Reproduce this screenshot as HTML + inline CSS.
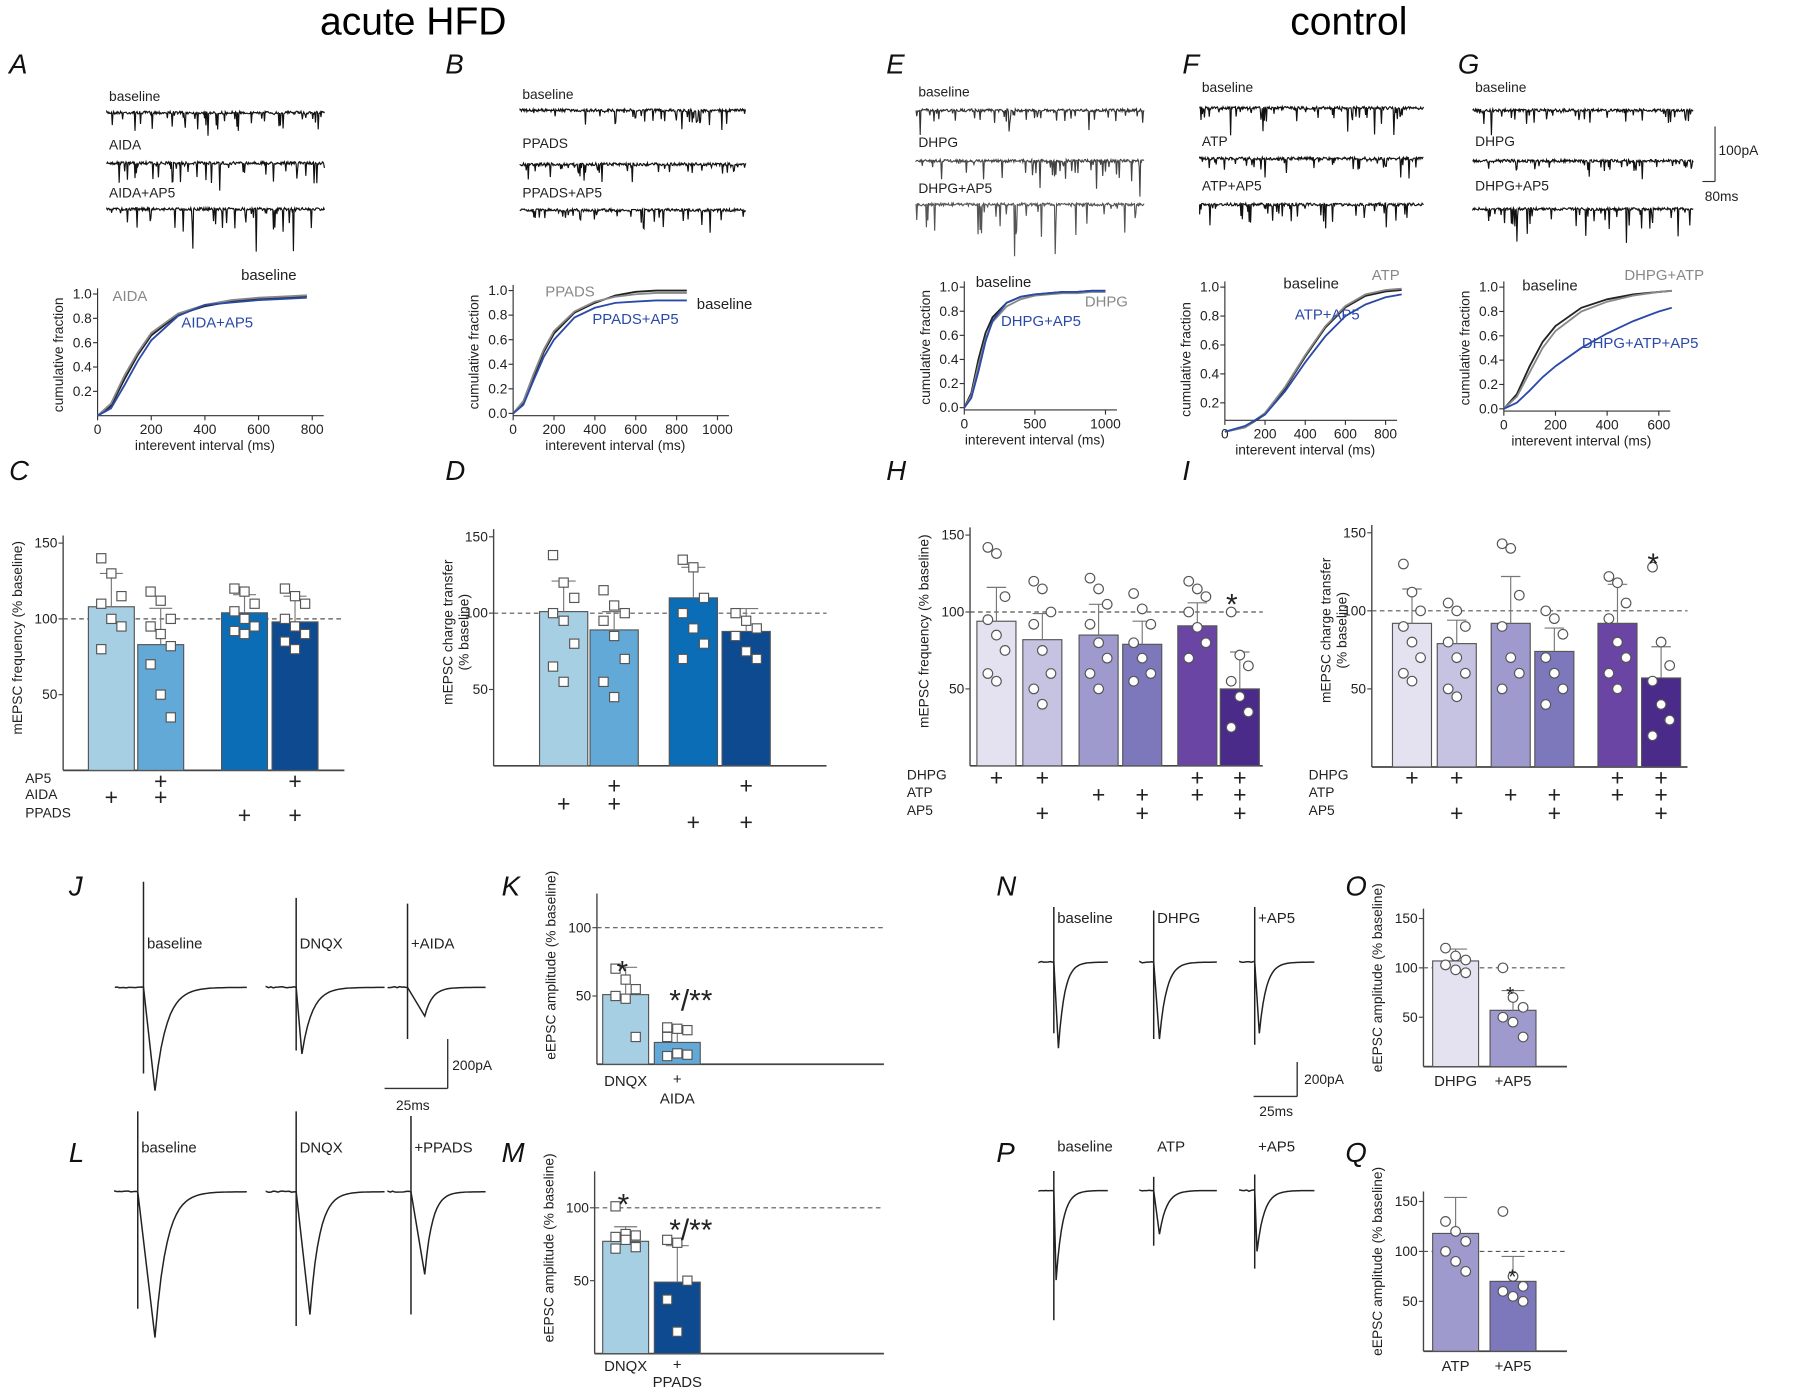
<!DOCTYPE html>
<html><head><meta charset="utf-8">
<style>
html,body{margin:0;padding:0;background:#fff;}
svg{display:block;font-family:"Liberation Sans",Arial,sans-serif;}
.t{font-size:12px;fill:#222;}
.pl{font-size:24px;font-style:italic;fill:#111;}
</style></head>
<body>
<svg id="fig" width="1800" height="1387" viewBox="0 0 1568 1208" xmlns="http://www.w3.org/2000/svg">
<text x="360" y="30" font-size="34" text-anchor="middle">acute HFD</text>
<text x="1175" y="30" font-size="34" text-anchor="middle">control</text>
</svg>
<script>
// ---- data arrays ----
const cdfXA = [0,50,100,150,200,300,400,500,600,700,780];
const cdfA_base = [0,.08,.3,.5,.66,.83,.9,.94,.96,.97,.98];
const cdfA_aida = [0,.1,.33,.52,.68,.84,.91,.95,.97,.98,.99];
const cdfA_ap5 = [0,.06,.25,.45,.62,.82,.91,.93,.95,.96,.97];
const cdfXB = [0,50,100,150,200,300,400,500,600,700,800,850];
const cdfB_base = [0,.08,.3,.5,.65,.82,.9,.96,.99,1,1,1];
const cdfB_ppads = [0,.1,.32,.52,.67,.83,.91,.95,.97,.98,.98,.98];
const cdfB_ap5 = [0,.07,.27,.46,.6,.78,.86,.9,.91,.92,.92,.92];
const cdfXE = [0,50,100,150,200,300,400,500,600,700,800,900,1000];
const cdfE_base = [0,.12,.4,.62,.75,.87,.92,.94,.95,.96,.96,.97,.97];
const cdfE_dhpg = [0,.1,.35,.57,.71,.84,.9,.93,.94,.95,.95,.96,.96];
const cdfE_ap5 = [0,.08,.3,.55,.72,.87,.92,.94,.95,.96,.96,.97,.97];
const cdfXF = [0,100,200,300,400,500,600,700,800,880];
const cdfF_base = [0,.03,.12,.3,.52,.72,.86,.94,.97,.98];
const cdfF_atp = [0,.03,.13,.31,.53,.73,.87,.95,.98,.99];
const cdfF_ap5 = [0,.04,.12,.28,.48,.66,.8,.88,.93,.95];
const cdfXG = [0,50,100,150,200,300,400,500,600,650];
const cdfG_base = [0,.12,.35,.55,.68,.83,.9,.94,.96,.97];
const cdfG_atp = [0,.1,.3,.5,.64,.8,.88,.93,.96,.97];
const cdfG_ap5 = [0,.05,.15,.26,.35,.5,.62,.72,.8,.83];

const barC = [108,83,104,98], errC=[22,24,12,17];
const ptsC = [[140,130,115,110,100,95,80],[118,112,100,95,90,82,70,50,35],[120,118,110,105,100,95,92,90],[120,115,110,100,95,90,85,80]];
const barD = [101,89,110,88], errD=[20,12,20,15];
const ptsD = [[138,120,110,100,95,80,65,55],[115,105,100,95,85,70,55,45],[135,130,110,100,90,80,70],[100,95,90,85,75,70]];
const barH = [94,82,85,79,91,50], errH=[22,17,20,15,15,24];
const ptsH = [[142,138,110,95,85,75,60,55],[120,115,100,92,75,60,50,40],[122,115,105,92,80,70,60,50],[112,102,92,80,70,60,55],[120,115,110,100,90,80,70],[100,72,65,55,45,35,25]];
const barI = [92,79,92,74,92,57], errI=[22,15,30,15,25,20];
const ptsI = [[130,112,100,90,80,70,60,55],[105,100,90,80,70,60,50,45],[143,140,110,90,70,60,50],[100,95,85,70,60,50,40],[122,118,105,95,80,70,60,50],[128,80,65,55,40,30,20]];
const barK = [51,16], errK=[20,10];
const ptsK = [[70,62,55,50,48,20],[27,26,25,20,8,7,6]];
const barM = [77,49], errM=[10,25];
const ptsM = [[101,82,81,80,78,73,72],[78,76,50,37,15]];
const barO = [107,57], errO=[12,20];
const ptsO = [[120,112,108,103,98,95],[100,70,60,50,45,30]];
const barQ = [118,70], errQ=[36,25];
const ptsQ = [[130,120,110,100,90,80],[140,75,65,60,55,50]];

// ---- helpers ----
const S = document.getElementById('fig');
const NS = 'http://www.w3.org/2000/svg';
function el(tag, attrs, parent){
  const e = document.createElementNS(NS, tag);
  for (const k in attrs) e.setAttribute(k, attrs[k]);
  (parent||S).appendChild(e); return e;
}
function txt(x,y,s,cls,extra){
  extra = extra||{};
  const a = {x:x,y:y,class:cls||'t'};
  for (const k in extra) if (k!=='font-size' && k!=='fill') a[k]=extra[k];
  const e = el('text', a);
  if (extra['font-size']) e.style.fontSize = extra['font-size']+'px';
  if (extra.fill) e.style.fill = extra.fill;
  e.textContent = s; return e;
}
function line(x1,y1,x2,y2,st,w,dash){
  return el('line',{x1:x1,y1:y1,x2:x2,y2:y2,stroke:st||'#333','stroke-width':w||1.2,'stroke-dasharray':dash||'none'});
}
// panel letters
[['A',8,64],['B',388,64],['E',772,64],['F',1030,64],['G',1270,64],['C',8,418],['D',388,418],['H',772,418],['I',1030,418],['J',60,780],['K',437,780],['N',868,780],['O',1172,780],['L',60,1012],['M',437,1012],['P',868,1012],['Q',1172,1012]].forEach(p=>{
  const t = txt(p[1],p[2],p[0],'pl');
  
  
});

// noisy mEPSC traces
let seed = 7;
function rnd(){ seed = (seed*16807)%2147483647; return seed/2147483647; }
function trace(x0,x1,y,amp,color,name){
  let d = 'M'+x0+','+y;
  for (let x=x0; x<=x1; x+=0.6){
    let v = y + (rnd()-0.5)*2.5;
    if (rnd()<0.12) v = y + rnd()*amp*(rnd()<0.2?2.0:1);
    d += ' L'+x.toFixed(1)+','+v.toFixed(1);
  }
  const p = el('path',{d:d,fill:'none',stroke:color||'#111','stroke-width':1});
  
  
}
function traceSet(x0,x1,rows){
  rows.forEach(r=>{
    const t = txt(x0+2,r[1]-8,r[0]);  
    trace(x0,x1,r[2],r[3],r[4],'trace-'+r[0].toLowerCase().replace(/[^a-z0-9]+/g,'-'));
  });
}
traceSet(93,283,[['baseline',96,98,16],['AIDA',138,142,18],['AIDA+AP5',180,182,20]]);
traceSet(453,650,[['baseline',94,96,12],['PPADS',137,143,8],['PPADS+AP5',180,183,10]]);
traceSet(798,997,[['baseline',92,96,12,'#333'],['DHPG',136,140,18,'#444'],['DHPG+AP5',176,178,26,'#555']]);
traceSet(1045,1240,[['baseline',88,94,12],['ATP',135,138,10],['ATP+AP5',174,178,16]]);
traceSet(1283,1475,[['baseline',88,96,12],['DHPG',135,140,10],['DHPG+AP5',174,182,16]]);
line(1494,110,1494,158,'#333',1); line(1483,158,1494,158,'#333',1);
txt(1497,135,'100pA'); txt(1485,175,'80ms');

// cumulative plots
function cdfPlot(cfg){
  const g = el('g',{});  
  const sx = v => cfg.x0 + v/cfg.xmax*(cfg.x1-cfg.x0);
  const sy = v => cfg.y0 - v*(cfg.y0-cfg.y1);
  el('line',{x1:cfg.x0,y1:cfg.ybot,x2:cfg.x0,y2:cfg.y1-5,stroke:'#333'},g);
  el('line',{x1:cfg.x0,y1:cfg.ybot,x2:cfg.x1+10,y2:cfg.ybot,stroke:'#333'},g);
  cfg.yt.forEach(v=>{ el('line',{x1:cfg.x0-4,y1:sy(v),x2:cfg.x0,y2:sy(v),stroke:'#333'},g);
    g.appendChild(txt(cfg.x0-5,sy(v)+4,v.toFixed(1),'t',{'text-anchor':'end'}));});
  cfg.xt.forEach(v=>{ el('line',{x1:sx(v),y1:cfg.ybot,x2:sx(v),y2:cfg.ybot+4,stroke:'#333'},g);
    g.appendChild(txt(sx(v),cfg.ybot+16,String(v),'t',{'text-anchor':'middle'}));});
  g.appendChild(txt((cfg.x0+cfg.x1)/2,cfg.ybot+30,'interevent interval (ms)','t',{'text-anchor':'middle'}));
  g.appendChild(txt(0,0,'cumulative fraction','t',{'text-anchor':'middle',transform:`translate(${cfg.x0-30},${(cfg.y0+cfg.y1)/2}) rotate(-90)`}));
  cfg.series.forEach(s=>{
    let d=''; s.data.forEach((v,i)=>{ d+=(d?' L':'M')+sx(cfg.xs[i]).toFixed(1)+','+sy(v).toFixed(1);});
    const p=el('path',{d:d,fill:'none',stroke:s.c,'stroke-width':1.6},g);
     
  });
  cfg.labels.forEach(l=>g.appendChild(txt(l[1],l[2],l[0],'t',{fill:l[3],'font-size':13})));
}
const BL='#2b4aa8', GR='#888';
cdfPlot({name:'cdf-panel-a',x0:85,x1:272,xmax:800,xs:cdfXA,y0:362,y1:256,ybot:362,yt:[.2,.4,.6,.8,1.0],xt:[0,200,400,600,800],
  series:[{n:'baseline',data:cdfA_base,c:'#222'},{n:'aida',data:cdfA_aida,c:GR},{n:'aida-ap5',data:cdfA_ap5,c:BL}],
  labels:[['AIDA',98,262,GR],['baseline',210,244,'#222'],['AIDA+AP5',158,285,BL]]});
cdfPlot({name:'cdf-panel-b',x0:447,x1:625,xmax:1000,xs:cdfXB,y0:360,y1:253,ybot:362,yt:[0,.2,.4,.6,.8,1.0],xt:[0,200,400,600,800,1000],
  series:[{n:'baseline',data:cdfB_base,c:'#222'},{n:'ppads',data:cdfB_ppads,c:GR},{n:'ppads-ap5',data:cdfB_ap5,c:BL}],
  labels:[['PPADS',475,258,GR],['baseline',607,269,'#222'],['PPADS+AP5',516,282,BL]]});
cdfPlot({name:'cdf-panel-e',x0:840,x1:963,xmax:1000,xs:cdfXE,y0:355,y1:250,ybot:357,yt:[0,.2,.4,.6,.8,1.0],xt:[0,500,1000],
  series:[{n:'baseline',data:cdfE_base,c:'#222'},{n:'dhpg',data:cdfE_dhpg,c:GR},{n:'dhpg-ap5',data:cdfE_ap5,c:BL}],
  labels:[['baseline',850,250,'#222'],['DHPG',945,267,GR],['DHPG+AP5',872,284,BL]]});
cdfPlot({name:'cdf-panel-f',x0:1067,x1:1207,xmax:800,xs:cdfXF,y0:376,y1:250,ybot:366,yt:[.2,.4,.6,.8,1.0],xt:[0,200,400,600,800],
  series:[{n:'baseline',data:cdfF_base,c:'#222'},{n:'atp',data:cdfF_atp,c:GR},{n:'atp-ap5',data:cdfF_ap5,c:BL}],
  labels:[['baseline',1118,251,'#222'],['ATP',1195,244,GR],['ATP+AP5',1128,278,BL]]});
cdfPlot({name:'cdf-panel-g',x0:1310,x1:1445,xmax:600,xs:cdfXG,y0:356,y1:250,ybot:358,yt:[0,.2,.4,.6,.8,1.0],xt:[0,200,400,600],
  series:[{n:'baseline',data:cdfG_base,c:'#222'},{n:'dhpg-atp',data:cdfG_atp,c:GR},{n:'dhpg-atp-ap5',data:cdfG_ap5,c:BL}],
  labels:[['baseline',1326,253,'#222'],['DHPG+ATP',1415,244,GR],['DHPG+ATP+AP5',1378,303,BL]]});

// bar charts
function barChart(cfg){
  const g = el('g',{});  
  const k = cfg.k; const sy = v => cfg.y0 - v*k;
  el('line',{x1:cfg.ax,y1:sy(0),x2:cfg.ax,y2:sy(cfg.top),stroke:'#444','stroke-width':1.2},g);
  el('line',{x1:cfg.ax,y1:sy(0),x2:cfg.xend,y2:sy(0),stroke:'#444','stroke-width':1.5},g);
  el('line',{x1:cfg.ax,y1:sy(100),x2:cfg.xend,y2:sy(100),stroke:'#555','stroke-width':1,'stroke-dasharray':'4,3'},g);
  cfg.ticks.forEach(v=>{ el('line',{x1:cfg.ax-4,y1:sy(v),x2:cfg.ax,y2:sy(v),stroke:'#444'},g);
    g.appendChild(txt(cfg.ax-5,sy(v)+4,String(v),'t',{'text-anchor':'end'}));});
  cfg.vals.forEach((v,i)=>{
    const cx = cfg.cx[i], w = cfg.w;
    const r = el('rect',{x:cx-w/2,y:sy(v),width:w,height:v*k,fill:cfg.colors[i],stroke:'#555','stroke-width':1},g);
     
    const e = cfg.err[i];
    el('line',{x1:cx,y1:sy(v),x2:cx,y2:sy(v+e),stroke:'#777'},g);
    el('line',{x1:cx-w/4,y1:sy(v+e),x2:cx+w/4,y2:sy(v+e),stroke:'#777'},g);
    cfg.pts[i].forEach((p,j)=>{
      const px = cx + ((j%3)-1)*w*0.22;
      if (cfg.shape==='sq') el('rect',{x:px-4,y:sy(p)-4,width:8,height:8,fill:'#fff',stroke:'#555','stroke-width':1},g);
      else el('circle',{cx:px,cy:sy(p),r:4.2,fill:'#fff',stroke:'#555','stroke-width':1},g);
    });
  });
  g.appendChild(txt(0,0,cfg.ylab,'t',{'text-anchor':'middle',transform:`translate(${cfg.ax-36},${sy(cfg.top/2+10)}) rotate(-90)`}));
  if (cfg.ylab2) g.appendChild(txt(0,0,cfg.ylab2,'t',{'text-anchor':'middle',transform:`translate(${cfg.ax-22},${sy(cfg.top/2+10)}) rotate(-90)`}));
  (cfg.rows||[]).forEach(r=>{
    if (r[0]) g.appendChild(txt(r[1],r[2],r[0]));
    r[3].forEach((on,i)=>{ if(on) g.appendChild(txt(cfg.cx[i],r[2]+5,'+','t',{'text-anchor':'middle','font-size':20})); });
  });
  (cfg.stars||[]).forEach(s=>g.appendChild(txt(s[1],s[2],s[0],'t',{'font-size':s[3]||26})));
  (cfg.xl||[]).forEach(s=>g.appendChild(txt(s[1],s[2],s[0],'t',{'text-anchor':'middle','font-size':13})));
}
const BLU=['#a6cfe4','#62a9d7','#0a6db6','#0d4a8f'];
const PUR=['#e4e2f0','#c5c3e1','#9f9acd','#7c78bb','#6a45a4','#4b2b8a'];
barChart({name:'bar-chart-c',ax:55,xend:300,y0:671,k:1.32,top:155,ticks:[50,100,150],vals:barC,err:errC,pts:ptsC,cx:[97,140,213,257],w:40,colors:BLU,shape:'sq',
  ylab:'mEPSC frequency (% baseline)',rows:[['AP5',22,682,[0,1,0,1]],['AIDA',22,696,[1,1,0,0]],['PPADS',22,712,[0,0,1,1]]]});
barChart({name:'bar-chart-d',ax:430,xend:720,y0:667,k:1.33,top:155,ticks:[50,100,150],vals:barD,err:errD,pts:ptsD,cx:[491,535,604,650],w:42,colors:BLU,shape:'sq',
  ylab:'mEPSC charge transfer',ylab2:'(% baseline)',rows:[['',0,686,[0,1,0,1]],['',0,702,[1,1,0,0]],['',0,718,[0,0,1,1]]]});
barChart({name:'bar-chart-h',ax:845,xend:1100,y0:667,k:1.34,top:155,ticks:[50,100,150],vals:barH,err:errH,pts:ptsH,cx:[868,908,957,995,1043,1080],w:34,colors:PUR,shape:'c',
  ylab:'mEPSC frequency (% baseline)',rows:[['DHPG',790,679,[1,1,0,0,1,1]],['ATP',790,694,[0,0,1,1,1,1]],['AP5',790,710,[0,1,0,1,0,1]]],stars:[['*',1068,535]]});
barChart({name:'bar-chart-i',ax:1195,xend:1470,y0:668,k:1.36,top:155,ticks:[50,100,150],vals:barI,err:errI,pts:ptsI,cx:[1230,1269,1316,1354,1409,1447],w:34,colors:PUR,shape:'c',
  ylab:'mEPSC charge transfer',ylab2:'(% baseline)',rows:[['DHPG',1140,679,[1,1,0,0,1,1]],['ATP',1140,694,[0,0,1,1,1,1]],['AP5',1140,710,[0,1,0,1,0,1]]],stars:[['*',1435,500]]});
barChart({name:'bar-chart-k',ax:520,xend:770,y0:927,k:1.19,top:125,ticks:[50,100],vals:barK,err:errK,pts:ptsK,cx:[545,590],w:40,colors:[BLU[0],BLU[1]],shape:'sq',
  ylab:'eEPSC amplitude (% baseline)',stars:[['*',537,855],['*/**',583,880]],xl:[['DNQX',545,946],['+',590,944],['AIDA',590,961]]});
barChart({name:'bar-chart-m',ax:518,xend:770,y0:1179,k:1.27,top:125,ticks:[50,100],vals:barM,err:errM,pts:ptsM,cx:[545,590],w:40,colors:[BLU[0],BLU[3]],shape:'sq',
  ylab:'eEPSC amplitude (% baseline)',stars:[['*',538,1058],['*/**',583,1080]],xl:[['DNQX',545,1194],['+',590,1193],['PPADS',590,1208]]});
barChart({name:'bar-chart-o',ax:1240,xend:1365,y0:929,k:0.86,top:160,ticks:[50,100,150],vals:barO,err:errO,pts:ptsO,cx:[1268,1318],w:40,colors:[PUR[0],PUR[2]],shape:'c',
  ylab:'eEPSC amplitude (% baseline)',stars:[['*',1312,872,18]],xl:[['DHPG',1268,946],['+AP5',1318,946]]});
barChart({name:'bar-chart-q',ax:1240,xend:1365,y0:1177,k:0.87,top:160,ticks:[50,100,150],vals:barQ,err:errQ,pts:ptsQ,cx:[1268,1318],w:40,colors:[PUR[2],PUR[3]],shape:'c',
  ylab:'eEPSC amplitude (% baseline)',stars:[['*',1314,1118,18]],xl:[['ATP',1268,1194],['+AP5',1318,1194]]});

// evoked EPSC traces
function epsc(x0,x1,yb,ax,atop,abot,px,py,label,name){
  const g = el('g',{});  
  let d='M'+x0+','+yb;
  for(let x=x0;x<ax;x+=2) d+=' L'+x+','+(yb+(rnd()-0.5)*1.2).toFixed(1);
  const dec = (x1-px)/5;
  d+=' L'+ax+','+yb+' L'+px+','+py;
  for(let i=1;i<=30;i++){const x=px+i*(x1-px)/30; const y=yb+(py-yb)*Math.exp(-(x-px)/dec*1.6); d+=' L'+x.toFixed(1)+','+y.toFixed(1);}
  el('path',{d:d,fill:'none',stroke:'#222','stroke-width':1.3},g);
  el('line',{x1:ax,y1:atop,x2:ax,y2:abot,stroke:'#222','stroke-width':1.3},g);
  g.appendChild(txt(ax+3,yb-34,label,'t',{'font-size':13}));
}
epsc(100,215,860,125,768,935,135,950,'baseline','epsc-j-baseline');
epsc(232,335,860,258,782,915,263,918,'DNQX','epsc-j-dnqx');
epsc(338,423,860,355,787,905,370,885,'+AIDA','epsc-j-aida');
line(390,905,390,948); line(335,948,390,948); txt(394,932,'200pA'); txt(345,967,'25ms');
epsc(100,215,1038,120,968,1140,135,1165,'baseline','epsc-l-baseline');
epsc(232,335,1038,258,968,1155,270,1145,'DNQX','epsc-l-dnqx');
epsc(338,423,1038,358,972,1145,370,1110,'+PPADS','epsc-l-ppads');
epsc(905,965,838,918,790,900,922,913,'baseline','epsc-n-baseline');
epsc(993,1060,838,1005,793,905,1010,905,'DHPG','epsc-n-dhpg');
epsc(1080,1145,838,1093,790,910,1097,900,'+AP5','epsc-n-ap5');
line(1130,925,1130,955); line(1092,955,1130,955); txt(1136,944,'200pA'); txt(1097,972,'25ms');
epsc(905,965,1037,918,1020,1150,920,1115,'baseline','epsc-p-baseline');
epsc(993,1060,1037,1005,1025,1085,1010,1075,'ATP','epsc-p-atp');
epsc(1080,1145,1037,1093,1023,1105,1095,1090,'+AP5','epsc-p-ap5');
</script>
</body></html>
